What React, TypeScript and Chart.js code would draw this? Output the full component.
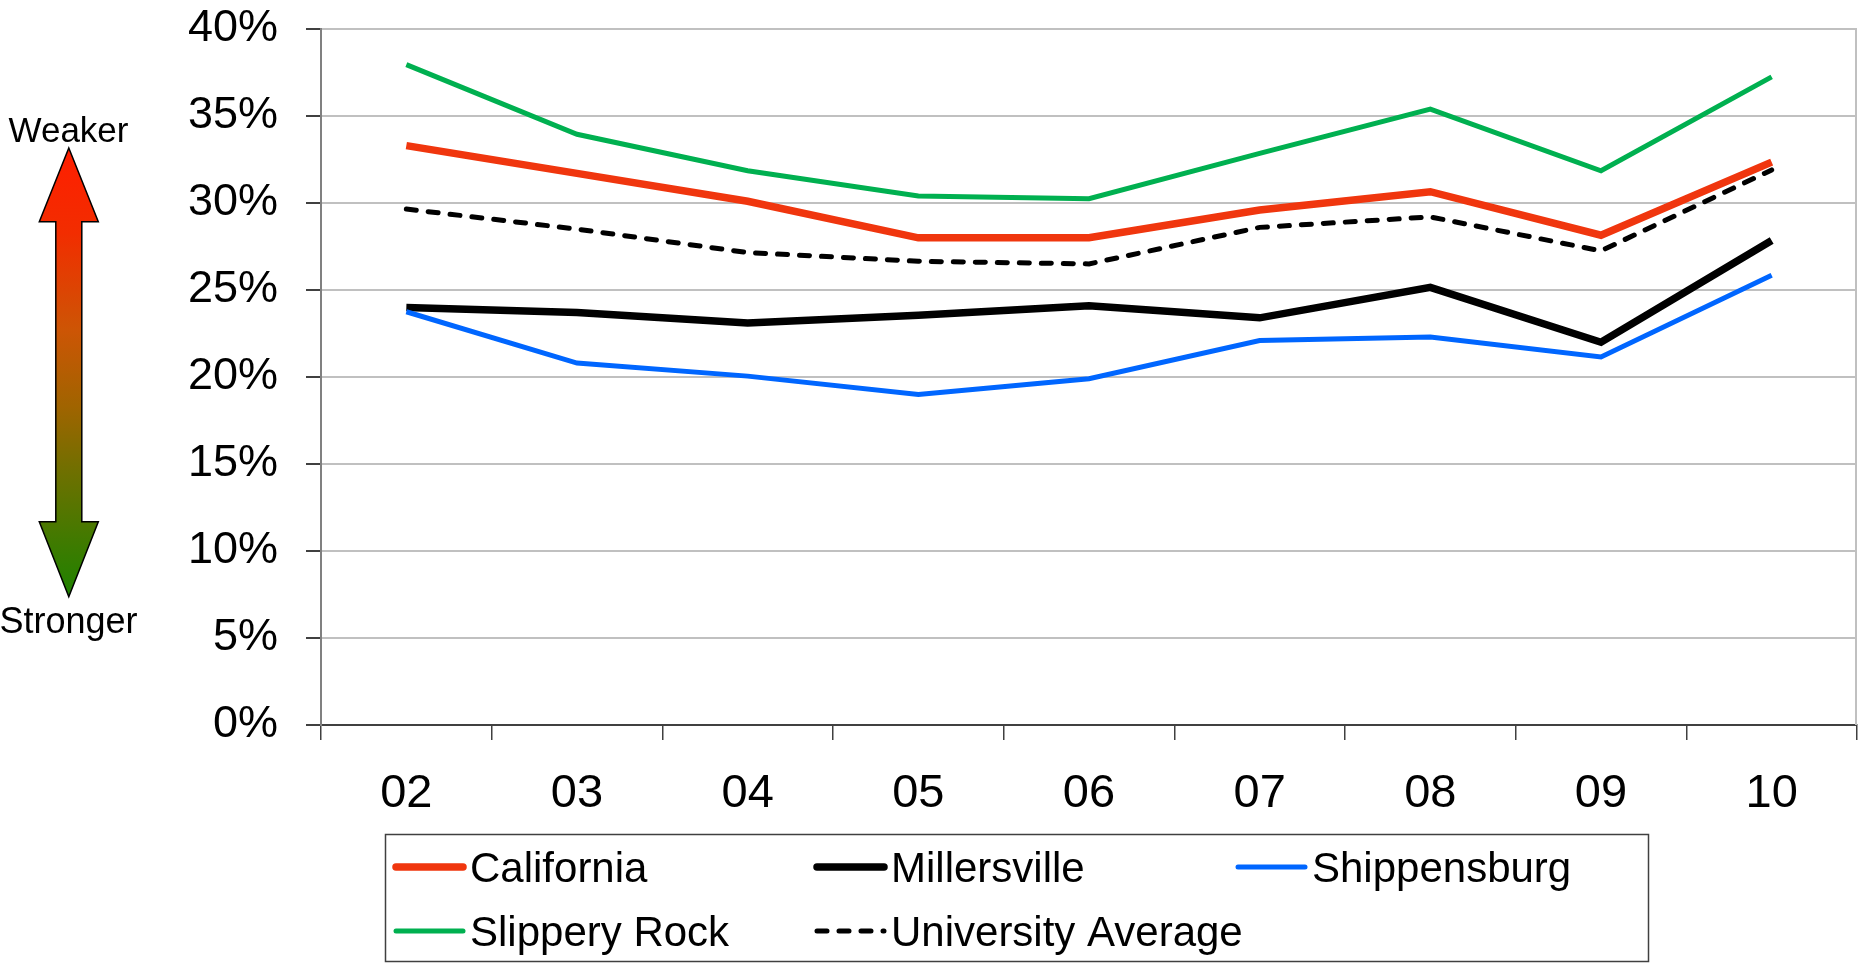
import React, { useEffect, useRef } from "react";
import { Chart, registerables } from "chart.js";

Chart.register(...registerables);

const categories = ["02", "03", "04", "05", "06", "07", "08", "09", "10"];
const california = [33.3, 31.7, 30.1, 28.0, 28.0, 29.6, 30.65, 28.15, 32.35];
const millersville = [24.0, 23.7, 23.1, 23.55, 24.1, 23.4, 25.15, 22.0, 27.85];
const shippensburg = [23.75, 20.8, 20.05, 19.0, 19.9, 22.1, 22.3, 21.15, 25.85];
const slipperyRock = [37.95, 33.95, 31.85, 30.4, 30.25, 32.85, 35.4, 31.85, 37.25];
const universityAverage = [29.65, 28.5, 27.15, 26.65, 26.5, 28.6, 29.2, 27.25, 31.9];
const yTicks = [0, 5, 10, 15, 20, 25, 30, 35, 40];
const topLabel = "Weaker";
const bottomLabel = "Stronger";

const FONT = '"Liberation Sans", Arial, sans-serif';

const annotPlugin = {
  id: "annot",
  beforeDatasetsDraw(chart: any) {
    const { ctx, chartArea } = chart;
    ctx.save();
    ctx.strokeStyle = "#c0c0c0";
    ctx.lineWidth = 2;
    ctx.beginPath();
    ctx.moveTo(chartArea.right - 1, chartArea.top);
    ctx.lineTo(chartArea.right - 1, chartArea.bottom);
    ctx.stroke();
    ctx.restore();
  },
  afterDraw(chart: any) {
    const ctx = chart.ctx;
    ctx.save();
    // arrow
    const cx = 68.8;
    const tipTop = 148;
    const headTopBase = 221.7;
    const headBotBase = 521.7;
    const tipBot = 596.7;
    const hw = 29.5;
    const sw = 13;
    const g = ctx.createLinearGradient(0, tipTop, 0, tipBot);
    g.addColorStop(0, "rgb(255,30,0)");
    g.addColorStop(0.19, "rgb(242,45,0)");
    g.addColorStop(0.405, "rgb(205,85,5)");
    g.addColorStop(0.577, "rgb(160,100,0)");
    g.addColorStop(0.724, "rgb(110,112,0)");
    g.addColorStop(0.873, "rgb(65,122,0)");
    g.addColorStop(1, "rgb(30,130,0)");
    ctx.beginPath();
    ctx.moveTo(cx, tipTop);
    ctx.lineTo(cx + hw, headTopBase);
    ctx.lineTo(cx + sw, headTopBase);
    ctx.lineTo(cx + sw, headBotBase);
    ctx.lineTo(cx + hw, headBotBase);
    ctx.lineTo(cx, tipBot);
    ctx.lineTo(cx - hw, headBotBase);
    ctx.lineTo(cx - sw, headBotBase);
    ctx.lineTo(cx - sw, headTopBase);
    ctx.lineTo(cx - hw, headTopBase);
    ctx.closePath();
    ctx.fillStyle = g;
    ctx.fill();
    ctx.strokeStyle = "#000";
    ctx.lineWidth = 1.5;
    ctx.stroke();

    ctx.fillStyle = "#000";
    ctx.textAlign = "center";
    ctx.textBaseline = "alphabetic";
    ctx.font = `35px ${FONT}`;
    ctx.fillText(topLabel, 68.5, 141.5);
    ctx.font = `36px ${FONT}`;
    ctx.fillText(bottomLabel, 68.5, 632.5);

    // legend
    ctx.strokeStyle = "#404040";
    ctx.lineWidth = 1.5;
    ctx.strokeRect(385.5, 834.5, 1263, 127);
    const dss = chart.data.datasets;
    ctx.textAlign = "left";
    ctx.font = `42px ${FONT}`;
    for (let i = 0; i < dss.length; i++) {
      const ds = dss[i];
      const col = i % 3;
      const row = Math.floor(i / 3);
      const x0 = 396 + col * 421;
      const y0 = 867 + row * 64;
      ctx.beginPath();
      ctx.strokeStyle = ds.borderColor;
      ctx.lineWidth = ds.borderWidth;
      ctx.lineCap = "round";
      ctx.setLineDash(ds.borderDash ? ds.borderDash : []);
      ctx.moveTo(x0, y0);
      ctx.lineTo(x0 + 67, y0);
      ctx.stroke();
      ctx.setLineDash([]);
      ctx.fillStyle = "#000";
      ctx.fillText(ds.label, x0 + 74, y0 + 15);
    }
    ctx.restore();
  },
};

export default function App() {
  const ref = useRef<HTMLCanvasElement | null>(null);
  useEffect(() => {
    if (!ref.current) return;
    const chart = new Chart(ref.current, {
      type: "line",
      data: {
        labels: categories,
        datasets: [
          { label: "California", data: california, borderColor: "#f0360e", borderWidth: 7.5, order: 4 },
          { label: "Millersville", data: millersville, borderColor: "#000000", borderWidth: 7.5, order: 3 },
          { label: "Shippensburg", data: shippensburg, borderColor: "#0066ff", borderWidth: 5, order: 2 },
          { label: "Slippery Rock", data: slipperyRock, borderColor: "#00b050", borderWidth: 5, order: 1 },
          {
            label: "University Average",
            data: universityAverage,
            borderColor: "#000000",
            borderWidth: 5,
            borderDash: [10, 12],
            borderCapStyle: "round",
            order: 0,
          },
        ].map((d: any) => ({ ...d, pointRadius: 0, fill: false, tension: 0 })),
      },
      options: {
        responsive: false,
        animation: false,
        devicePixelRatio: 1,
        layout: { padding: { top: 29, right: 7, left: 0, bottom: 0 } },
        plugins: { legend: { display: false }, tooltip: { enabled: false } },
        scales: {
          x: {
            type: "category",
            offset: true,
            grid: {
              offset: true,
              drawOnChartArea: false,
              drawTicks: true,
              tickLength: 15,
              tickColor: "#404040",
              lineWidth: 1.5,
            },
            border: { display: true, color: "#404040", width: 2 },
            ticks: {
              color: "#000",
              font: { size: 47, family: FONT },
              padding: 26,
              maxRotation: 0,
              autoSkip: false,
            },
            afterFit: (s: any) => {
              s.height = 240;
              s.paddingLeft = 0;
              s.paddingRight = 0;
            },
          },
          y: {
            min: 0,
            max: 40,
            afterBuildTicks: (s: any) => {
              s.ticks = yTicks.map((v) => ({ value: v }));
            },
            grid: {
              color: (c: any) => (c.tick && c.tick.value === 0 ? "rgba(0,0,0,0)" : "#c0c0c0"),
              lineWidth: 2,
              drawTicks: true,
              tickLength: 15,
              tickColor: "#404040",
            },
            border: { display: true, color: "#808080", width: 2 },
            ticks: {
              color: "#000",
              font: { size: 45, family: FONT },
              padding: 28,
              callback: (v: any) => v + "%",
            },
            afterFit: (s: any) => {
              s.width = 321;
              s.paddingTop = 0;
              s.paddingBottom = 0;
            },
          },
        },
      },
      plugins: [annotPlugin],
    } as any);
    return () => chart.destroy();
  }, []);
  return (
    <div style={{ position: "absolute", left: 0, top: 0, width: 1864, height: 965, background: "#fff" }}>
      <canvas ref={ref} width={1864} height={965} style={{ display: "block" }} />
    </div>
  );
}
